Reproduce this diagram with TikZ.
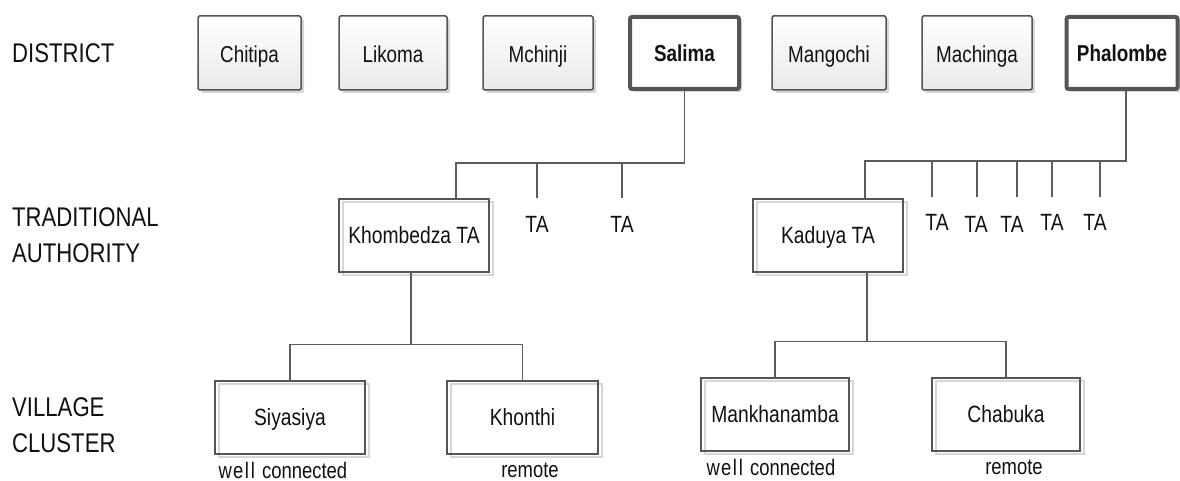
\documentclass[tikz,border=0pt]{standalone}
\usepackage{fontspec}
\setmainfont{Liberation Sans}[FakeStretch=0.82]
\usetikzlibrary{shadows}
\definecolor{edge}{HTML}{555555}
\definecolor{wire}{HTML}{5C5C5C}
\definecolor{shade}{HTML}{D6D6D6}
\definecolor{ink}{HTML}{111111}
\begin{document}
\begin{tikzpicture}[x=1pt,y=-1pt,
  every node/.style={text=ink, inner sep=0pt},
  district/.style={draw=edge, line width=1.5pt, rounded corners=1.5pt,
    top color=white, bottom color=gray!17, minimum height=74pt,
    font=\fontsize{23}{27}\selectfont, text height=19pt, text depth=0pt,
    general shadow={fill=shade, shadow xshift=3pt, shadow yshift=-3pt}},
  chosen/.style={draw=edge, line width=4pt, rounded corners=2pt, fill=white,
    minimum height=72pt, font=\bfseries\fontsize{23}{27}\selectfont,
    text height=18pt, text depth=0pt,
    general shadow={fill=shade, shadow xshift=3pt, shadow yshift=-3pt}},
  unit/.style={draw=edge, line width=1.5pt, minimum height=73pt,
    font=\fontsize{23.5}{27}\selectfont, text height=16pt, text depth=0pt,
    general shadow={draw=shade, line width=1.3pt, shadow xshift=4pt, shadow yshift=-3pt}},
  rowlbl/.style={anchor=west, align=left, font=\fontsize{27}{36}\selectfont},
  talbl/.style={font=\fontsize{23.5}{27}\selectfont},
  note/.style={font=\fontsize{22.5}{26}\selectfont},
  wire/.style={draw=wire, line width=1.5pt}
]
\useasboundingbox (0,0) rectangle (1180,481);

% level captions
\node[rowlbl] (capD) at (12,53) {DISTRICT};
\node[rowlbl] (capT) at (12,235) {TRADITIONAL\\AUTHORITY};
\node[rowlbl] (capV) at (12,425) {VILLAGE\\CLUSTER};

% districts
\node[district, minimum width=103pt] (chi) at (249.5,53) {Chitipa};
\node[district, minimum width=108pt] (lik) at (393,53) {Likoma};
\node[district, minimum width=110pt] (mch) at (538,53) {Mchinji};
\node[chosen,   minimum width=109pt] (sal) at (684.5,53) {Salima};
\node[district, minimum width=114pt] (man) at (829,53) {Mangochi};
\node[district, minimum width=110pt] (mac) at (977,53) {Machinga};
\node[chosen,   minimum width=111pt] (pha) at (1122,53) {Phalombe};

% traditional authorities
\node[unit, minimum width=150pt] (kho) at (414,235.5) {Khombedza TA};
\node[talbl] (taS1) at (537,224) {TA};
\node[talbl] (taS2) at (622,224) {TA};

\node[unit, minimum width=150pt] (kad) at (828,235.5) {Kaduya TA};
\node[talbl] (taP1) at (937,222) {TA};
\node[talbl] (taP2) at (976,224) {TA};
\node[talbl] (taP3) at (1012,224) {TA};
\node[talbl] (taP4) at (1052,222) {TA};
\node[talbl] (taP5) at (1095,222) {TA};

% village clusters
\node[unit, minimum width=150pt] (siy) at (290,417.5) {Siyasiya};
\node[unit, minimum width=151pt] (khn) at (522.5,417.5) {Khonthi};
\node[unit, minimum width=148pt] (mak) at (775,414.5) {Mankhanamba};
\node[unit, minimum width=148pt] (cha) at (1006,414.5) {Chabuka};

\node[note] (nSiy) at (283,470) {w\kern1pt e\kern1.5pt l\kern2pt l\kern2pt{} connected};
\node[note] (nKhn) at (530,470) {remote};
\node[note] (nMak) at (771,467) {w\kern1pt e\kern1.5pt l\kern2pt l\kern2pt{} connected};
\node[note] (nCha) at (1014,467) {remote};

% Salima branch
\draw[wire] (sal.south) -- ++(0,72) coordinate (busS) -| ([xshift=42pt]kho.north);
\coordinate (dS1) at (537,163);
\coordinate (dS2) at (622,163);
\draw[wire] (dS1) -- ++(0,35);
\draw[wire] (dS2) -- ++(0,35);
\draw[wire] ([xshift=-3pt]kho.south) -- ++(0,71.5) coordinate (busV);
\draw[wire] (siy.north) |- (busV) -| (khn.north);

% Phalombe branch
\draw[wire] ([xshift=4pt]pha.south) -- ++(0,70) coordinate (busP) -| ([xshift=37pt]kad.north);
\coordinate (dP1) at (932,161);
\coordinate (dP2) at (977,161);
\coordinate (dP3) at (1017,161);
\coordinate (dP4) at (1052,161);
\coordinate (dP5) at (1100,161);
\foreach \d in {dP1,dP2,dP3,dP4,dP5} \draw[wire] (\d) -- ++(0,36);
\draw[wire] ([xshift=39pt]kad.south) -- ++(0,68.5) coordinate (busK);
\draw[wire] (mak.north) |- (busK) -| (cha.north);
\end{tikzpicture}
\end{document}
